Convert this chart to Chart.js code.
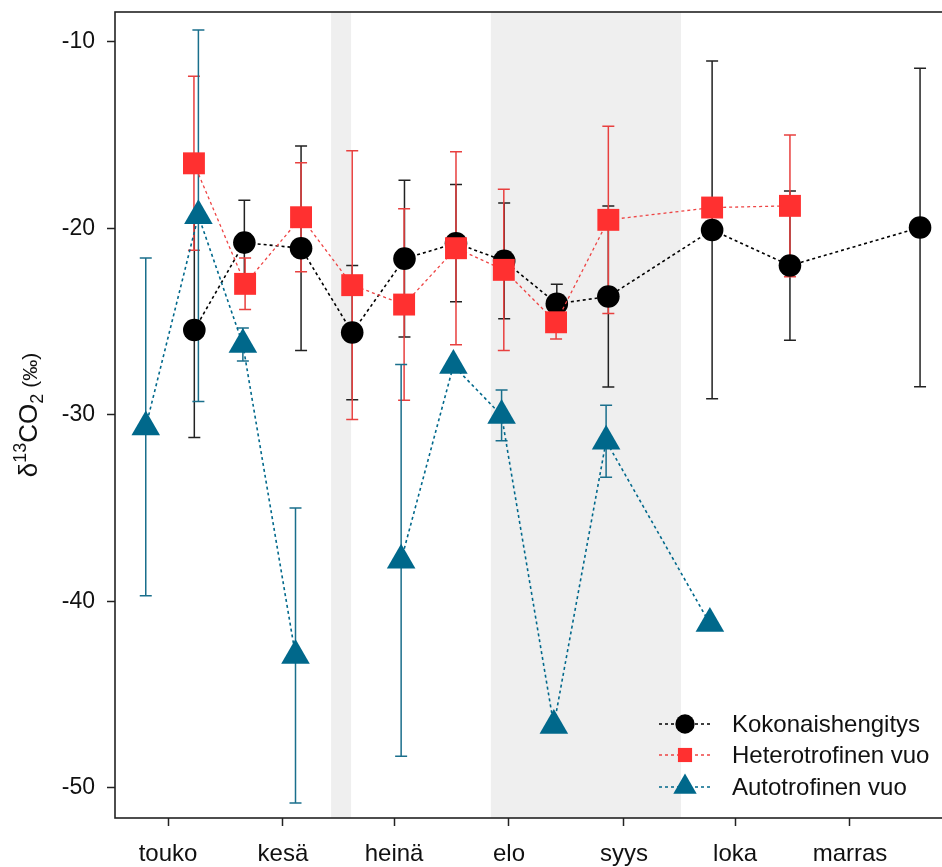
<!DOCTYPE html>
<html><head><meta charset="utf-8">
<script src="https://cdn.jsdelivr.net/npm/chart.js@4.4.1/dist/chart.umd.min.js"></script>
<style>html,body{margin:0;padding:0;overflow:hidden;background:#fff}canvas{display:block}</style>
</head><body>
<canvas id="c" width="1000" height="867"></canvas>
<script>
// ---- data (x = days since 1 May) ----
const monthLabels = ['touko','kesä','heinä','elo','syys','loka','marras'];
const monthStartDays = [0, 31, 61, 92, 123, 153, 184];
const yTickValues = [-10, -20, -30, -40, -50];
const bandStartDays = [44.0, 87.1];
const bandEndDays = [49.4, 138.4];

const kokDays = [7.1, 20.6, 35.9, 49.7, 63.8, 77.7, 90.7, 104.9, 118.8, 146.8, 167.8, 202.9];
const kokMean = [-25.45, -20.77, -21.07, -25.59, -21.63, -20.8, -21.75, -24.05, -23.66, -20.09, -22.0, -19.96];
const kokErr  = [5.76, 2.27, 5.48, 3.6, 4.2, 3.14, 3.1, 1.05, 4.85, 9.05, 4.0, 8.53];

const hetDays = [7.0, 20.8, 35.9, 49.7, 63.7, 77.7, 90.6, 104.7, 118.8, 146.8, 167.8];
const hetMean = [-16.52, -22.98, -19.41, -23.05, -24.09, -21.07, -22.23, -25.04, -19.55, -18.89, -18.8];
const hetErr  = [4.66, 1.38, 2.92, 7.2, 5.13, 5.17, 4.32, 0.9, 5.02, 0, 3.8];

// null = no value on that date (line breaks there)
const autDays = [-6.0, 8.2, 20.2, 34.4, 49.7, 62.9, 77.0, 90.0, 104.1, 118.2, 146.2];
const autMean = [-30.65, -19.33, -26.23, -42.9, null, -37.8, -27.36, -30.03, -46.65, -31.41, -41.19];
const autErr  = [9.05, 9.96, 0.88, 7.9, null, 10.5, 0, 1.36, 0, 1.93, 0];

const seriesNames = ['Kokonaishengitys', 'Heterotrofinen vuo', 'Autotrofinen vuo'];

const FONT = "'Liberation Sans', Arial, sans-serif";
const C_BLACK = '#000000', C_RED = '#ff3030', C_BLUE = '#00688b';

function toPoints(days, vals){ return days.map((d,i)=>({x:d, y:vals[i]})); }

const errSeries = [
  {days:kokDays, mean:kokMean, err:kokErr, color:'#222222'},
  {days:hetDays, mean:hetMean, err:hetErr, color:'#e8403f'},
  {days:autDays, mean:autMean, err:autErr, color:'#1a6f8c'}
];

const bandsPlugin = {
  id:'bands',
  beforeDraw(chart){
    const {ctx, chartArea:a, scales:{x}} = chart;
    ctx.save();
    ctx.fillStyle = '#efefef';
    for (let i=0;i<bandStartDays.length;i++){
      const x0 = x.getPixelForValue(bandStartDays[i]);
      const x1 = x.getPixelForValue(bandEndDays[i]);
      ctx.fillRect(x0, a.top, x1-x0, a.bottom-a.top);
    }
    ctx.restore();
  }
};

const errorBarPlugin = {
  id:'errbars',
  beforeDatasetsDraw(chart){
    const {ctx, scales:{x,y}} = chart;
    ctx.save();
    ctx.lineWidth = 1.5;
    errSeries.forEach(s=>{
      ctx.strokeStyle = s.color;
      s.days.forEach((d,i)=>{
        const e = s.err[i];
        if (!e || s.mean[i] === null) return;
        const px = x.getPixelForValue(d);
        const yt = y.getPixelForValue(s.mean[i]+e);
        const yb = y.getPixelForValue(s.mean[i]-e);
        ctx.beginPath();
        ctx.moveTo(px, yt); ctx.lineTo(px, yb);
        ctx.moveTo(px-6, yt); ctx.lineTo(px+6, yt);
        ctx.moveTo(px-6, yb); ctx.lineTo(px+6, yb);
        ctx.stroke();
      });
    });
    ctx.restore();
  }
};

const framePlugin = {
  id:'frame',
  afterDraw(chart){
    const {ctx, chartArea:a} = chart;
    ctx.save();
    ctx.strokeStyle = '#222';
    ctx.lineWidth = 1.6;
    ctx.strokeRect(a.left, a.top, a.right-a.left, a.bottom-a.top);

    // y-axis title with super/subscript
    ctx.translate(37, 415);
    ctx.rotate(-Math.PI/2);
    ctx.fillStyle = '#111';
    ctx.textBaseline = 'alphabetic';
    const parts = [
      {t:'δ', s:26, dy:0},
      {t:'13', s:18, dy:-11},
      {t:'CO', s:26, dy:0},
      {t:'2', s:18, dy:6},
      {t:' (‰)', s:21, dy:0}
    ];
    let total = 0;
    parts.forEach(p=>{ ctx.font = p.s+'px '+FONT; p.w = ctx.measureText(p.t).width; total += p.w; });
    let cx = -total/2;
    parts.forEach(p=>{ ctx.font = p.s+'px '+FONT; ctx.fillText(p.t, cx, p.dy); cx += p.w; });
    ctx.restore();

    // legend
    ctx.save();
    const rows = [724, 755, 787];
    const styles = [
      {color:C_BLACK, style:'circle', r:9.7, line:'#000'},
      {color:C_RED, style:'rect', r:10, line:'#ee4444'},
      {color:C_BLUE, style:'triangle', r:13.5, line:C_BLUE}
    ];
    rows.forEach((ry,i)=>{
      const st = styles[i];
      ctx.strokeStyle = st.line;
      ctx.lineWidth = 1.5;
      ctx.setLineDash([3,3]);
      ctx.beginPath(); ctx.moveTo(659, ry); ctx.lineTo(710, ry); ctx.stroke();
      ctx.setLineDash([]);
      ctx.fillStyle = st.color;
      Chart.helpers.drawPoint(ctx, {pointStyle:st.style, radius:st.r, borderWidth:0, rotation:0}, 685, ry);
      ctx.fillStyle = '#111';
      ctx.font = '24px '+FONT;
      ctx.textBaseline = 'middle';
      ctx.fillText(seriesNames[i], 732, ry+1);
    });
    ctx.restore();
  }
};

const common = {showLine:true, spanGaps:false, borderWidth:1.6, borderDash:[3,3], pointBorderWidth:0, tension:0, fill:false, clip:false};

const chart = new Chart(document.getElementById('c'), {
  type:'scatter',
  data:{
    datasets:[
      Object.assign({}, common, {label:seriesNames[0], data:toPoints(kokDays,kokMean), borderColor:'#000', pointStyle:'circle', pointRadius:11.3, pointBackgroundColor:C_BLACK, order:3}),
      Object.assign({}, common, {label:seriesNames[1], data:toPoints(hetDays,hetMean), borderColor:'#ee4444', borderWidth:1.3, pointStyle:'rect', pointRadius:15.5, pointBackgroundColor:C_RED, order:2}),
      Object.assign({}, common, {label:seriesNames[2], data:toPoints(autDays,autMean), borderColor:C_BLUE, pointStyle:'triangle', pointRadius:16.5, pointBackgroundColor:C_BLUE, order:1})
    ]
  },
  options:{
    responsive:false,
    animation:false,
    layout:{autoPadding:false, padding:{top:12, right:20, left:0, bottom:0}},
    plugins:{legend:{display:false}, tooltip:{enabled:false}},
    scales:{
      x:{
        type:'linear', min:-14.3, max:230,
        afterBuildTicks:s=>{ s.ticks = monthStartDays.map(v=>({value:v})); },
        afterFit:s=>{ s.height = 49; s.paddingLeft = 0; s.paddingRight = 0; s.paddingTop = 0; s.paddingBottom = 0; },
        grid:{display:true, drawOnChartArea:false, drawTicks:true, tickLength:8, tickColor:'#222', tickWidth:1.5},
        border:{display:false},
        ticks:{autoSkip:false, maxRotation:0, padding:14, color:'#111', font:{family:FONT, size:24},
          callback:(v)=>monthLabels[monthStartDays.indexOf(v)]}
      },
      y:{
        type:'linear', min:-51.6, max:-8.41,
        afterBuildTicks:s=>{ s.ticks = yTickValues.map(v=>({value:v})); },
        afterFit:s=>{ s.width = 115; s.paddingTop = 0; s.paddingBottom = 0; s.paddingLeft = 0; s.paddingRight = 0; },
        grid:{display:true, drawOnChartArea:false, drawTicks:true, tickLength:8, tickColor:'#222', tickWidth:1.5},
        border:{display:false},
        ticks:{padding:12, color:'#111', font:{family:FONT, size:23}, callback:(v)=>String(v)}
      }
    }
  },
  plugins:[bandsPlugin, errorBarPlugin, framePlugin]
});

// calibrate the axis ranges so that the plot frame sits at top 12 / bottom 818
// and the month ticks / value ticks land where the reference has them
const X_PX_PER_DAY = 3.7065, X_PX_AT_DAY0 = 168;
const Y_PX_PER_UNIT = 18.658, Y_PX_AT_M10 = 41.67;
for (let k = 0; k < 3; k++) {
  const a = chart.chartArea;
  const pad = chart.options.layout.padding;
  pad.top = Math.max(0, pad.top + 12 - a.top);
  pad.bottom = Math.max(0, pad.bottom + a.bottom - 818);
  chart.update();
  const b = chart.chartArea;
  chart.options.scales.x.min = (b.left - X_PX_AT_DAY0) / X_PX_PER_DAY;
  chart.options.scales.x.max = (b.right - X_PX_AT_DAY0) / X_PX_PER_DAY;
  chart.options.scales.y.max = -10 - (b.top - Y_PX_AT_M10) / Y_PX_PER_UNIT;
  chart.options.scales.y.min = -10 - (b.bottom - Y_PX_AT_M10) / Y_PX_PER_UNIT;
  chart.update();
}
</script>
</body></html>
